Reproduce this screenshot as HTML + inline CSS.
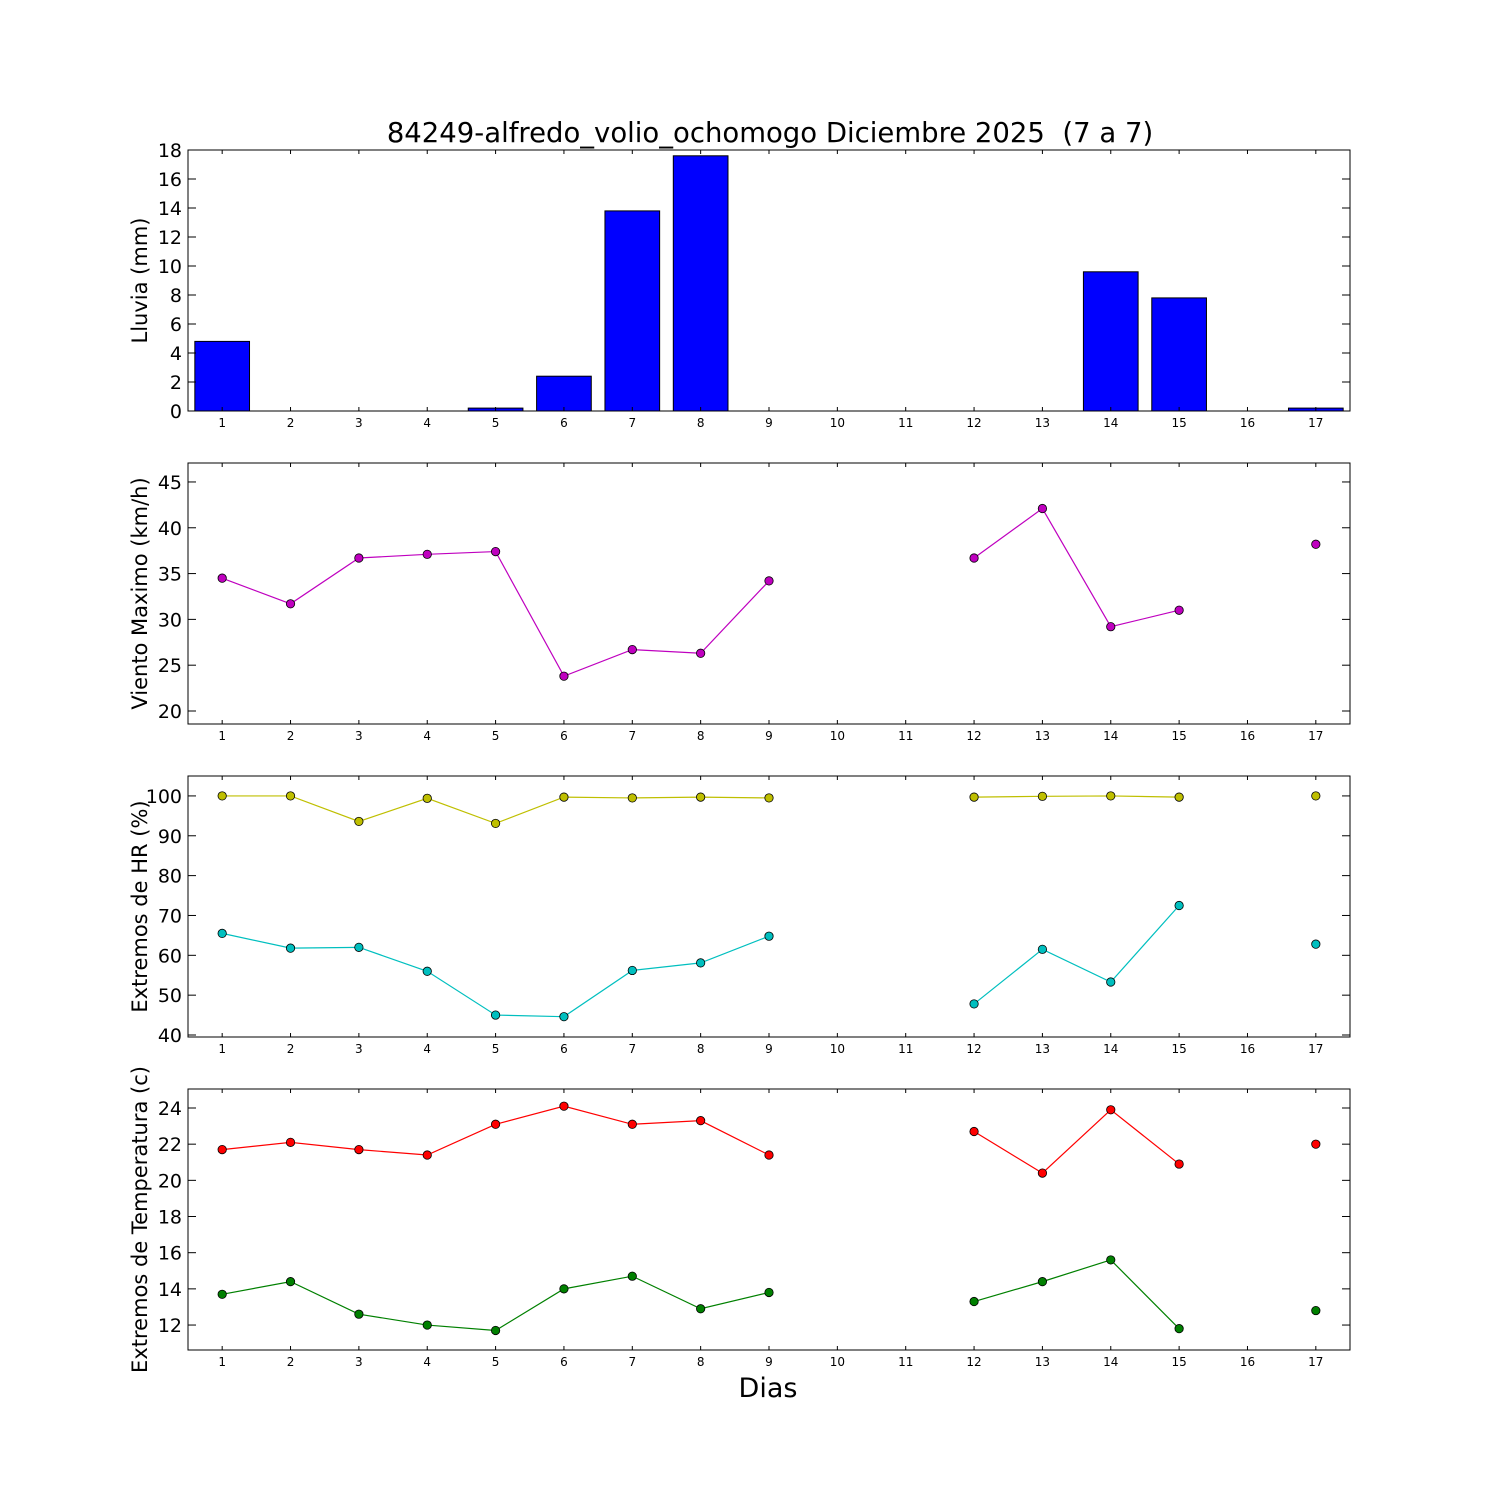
<!DOCTYPE html>
<html><head><meta charset="utf-8"><style>body{margin:0;background:#fff}svg{display:block}text{font-family:"DejaVu Sans","Liberation Sans",sans-serif}</style></head>
<body>
<svg id="c" width="1500" height="1500" xmlns="http://www.w3.org/2000/svg"></svg>
<script>
const days=[1,2,3,4,5,6,7,8,9,10,11,12,13,14,15,16,17];
const rain=[4.8,0,0,0,0.2,2.4,13.8,17.6,0,0,0,0,0,9.6,7.8,0,0.2];
const wind=[34.5,31.7,36.7,37.1,37.4,23.8,26.7,26.3,34.2,null,null,36.7,42.1,29.2,31.0,null,38.2];
const hrMax=[100,100,93.6,99.4,93.1,99.7,99.5,99.7,99.5,null,null,99.7,99.9,100,99.7,null,100];
const hrMin=[65.5,61.8,62,56,45,44.6,56.2,58.1,64.8,null,null,47.8,61.5,53.3,72.5,null,62.8];
const tMax=[21.7,22.1,21.7,21.4,23.1,24.1,23.1,23.3,21.4,null,null,22.7,20.4,23.9,20.9,null,22.0];
const tMin=[13.7,14.4,12.6,12.0,11.7,14.0,14.7,12.9,13.8,null,null,13.3,14.4,15.6,11.8,null,12.8];
const rainTicks=[0,2,4,6,8,10,12,14,16,18];
const windTicks=[20,25,30,35,40,45];
const hrTicks=[40,50,60,70,80,90,100];
const tTicks=[12,14,16,18,20,22,24];
const NS='http://www.w3.org/2000/svg';
const svg=document.getElementById('c');
function el(t,a,txt){const e=document.createElementNS(NS,t);for(const k in a)e.setAttribute(k,a[k]);if(txt!=null)e.textContent=txt;svg.appendChild(e);return e;}
const L=188,R=1350;
const x=d=>L+(d-0.5)*(R-L)/17;
function panel(top,bot,ymin,ymax,ticks,label,name){
  const y=v=>bot-(v-ymin)/(ymax-ymin)*(bot-top);
  return {y,top,bot,ticks,label,name};
}
function axes(p){
  for(const d of days){
    const t=el('line',{x1:x(d),x2:x(d),y1:p.bot,y2:p.bot-4,stroke:'#000'});
    
    el('line',{x1:x(d),x2:x(d),y1:p.top,y2:p.top+4,stroke:'#000'});
    const l=el('text',{x:x(d),y:p.bot+16,'font-size':12,'text-anchor':'middle'},d);
    
  }
  for(const v of p.ticks){
    el('line',{x1:L,x2:L+8,y1:p.y(v),y2:p.y(v),stroke:'#000'});
    el('line',{x1:R,x2:R-8,y1:p.y(v),y2:p.y(v),stroke:'#000'});
    const l=el('text',{x:L-6,y:p.y(v)+7,'font-size':19,'text-anchor':'end'},v);
    
  }
  const r=el('rect',{x:L,y:p.top,width:R-L,height:p.bot-p.top,fill:'none',stroke:'#000'});
  
  const cy=(p.top+p.bot)/2;
  const t=el('text',{x:147,y:cy,'font-size':21,'text-anchor':'middle',transform:`rotate(-90 147 ${cy})`},p.label);
  
}
function series(p,vals,color,name){
  let seg=[];
  const flush=()=>{if(seg.length>1){const e=el('polyline',{points:seg.join(' '),fill:'none',stroke:color,'stroke-width':1.2});}seg=[];};
  vals.forEach((v,i)=>{if(v==null){flush();return;}seg.push(x(days[i])+','+p.y(v));});
  flush();
  vals.forEach((v,i)=>{if(v==null)return;const c=el('circle',{cx:x(days[i]),cy:p.y(v),r:4.2,fill:color,stroke:'#000','stroke-width':0.8});});
}
const p1=panel(150,411,0,18,rainTicks,'Lluvia (mm)','rain');
const p2=panel(463,724,18.58,47.07,windTicks,'Viento Maximo (km/h)','wind');
const p3=panel(776,1037,39.5,105,hrTicks,'Extremos de HR (%)','humidity');
const p4=panel(1089,1350,10.62,25.05,tTicks,'Extremos de Temperatura (c)','temperature');
const bw=(R-L)/17*0.8;
rain.forEach((v,i)=>{const b=el('rect',{x:x(days[i])-bw/2,y:p1.y(v),width:bw,height:p1.y(0)-p1.y(v),fill:'#0000ff',stroke:'#000','stroke-width':1});});
series(p2,wind,'#bf00bf','wind');
series(p3,hrMax,'#bfbf00','hr-max');
series(p3,hrMin,'#00bfbf','hr-min');
series(p4,tMax,'#ff0000','temp-max');
series(p4,tMin,'#008000','temp-min');
[p1,p2,p3,p4].forEach(axes);
const ti=el('text',{x:770,y:142,'font-size':27.5,'text-anchor':'middle'},'84249-alfredo_volio_ochomogo Diciembre 2025  (7 a 7)');

ti.setAttribute('xml:space','preserve');ti.style.whiteSpace='pre';
const xl=el('text',{x:768,y:1397,'font-size':27,'text-anchor':'middle'},'Dias');

</script>
</body></html>
